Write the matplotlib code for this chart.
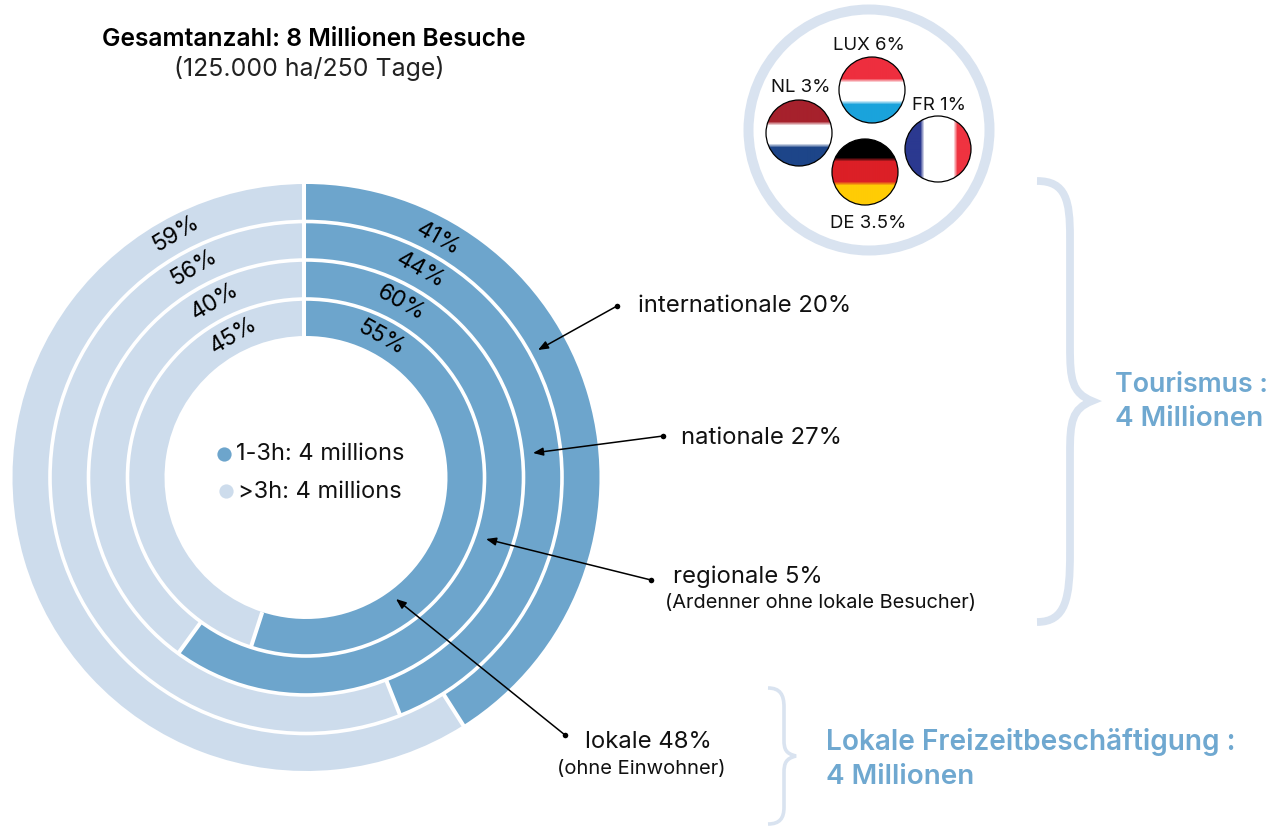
import numpy as np
import matplotlib
matplotlib.use("Agg")
import matplotlib.pyplot as plt
from matplotlib.patches import Circle, PathPatch
from matplotlib.path import Path

plt.rcParams['font.family'] = ['Inter', 'DejaVu Sans']

# ---- data ----
ring_names = ['international', 'national', 'regional', 'local']
share_1_3h = [41, 44, 60, 55]
share_over3h = [59, 56, 40, 45]
dark = '#6DA5CC'
light = '#CDDCEC'
pale = '#D9E3F0'
blue_txt = '#6FA8D0'

CX, CY = 306, 477.5
ring_edges = [293.5, 256, 217.5, 178.5, 141.5]

fig = plt.figure(figsize=(12.82, 8.26), dpi=100, facecolor='white')
ax = fig.add_axes([0, 0, 1, 1])

# ---- rings ----
for i, (a, b) in enumerate(zip(share_1_3h, share_over3h)):
    ax.pie([a, b], colors=[dark, light], startangle=-90, counterclock=True,
           center=(CX, CY), radius=ring_edges[i],
           wedgeprops=dict(width=ring_edges[i] - ring_edges[i + 1], linewidth=0))
    th = 2 * np.pi * a / 100
    ax.plot([CX + ring_edges[i + 1] * np.sin(th), CX + (ring_edges[i] + 1) * np.sin(th)],
            [CY - ring_edges[i + 1] * np.cos(th), CY - (ring_edges[i] + 1) * np.cos(th)],
            color='white', lw=2.9, solid_capstyle='butt', zorder=3)
for r in ring_edges[1:4]:
    ax.add_patch(Circle((CX, CY), r, fill=False, ec='white', lw=2.6, zorder=3))
ax.plot([304, 304], [CY - 295, CY - 141], color='white', lw=2.9, solid_capstyle='butt', zorder=3)

# percent labels on rings
light_pos = [(176, 234), (194, 268), (215, 301), (234, 336)]
dark_pos = [(438, 239), (420, 270), (401, 303), (381, 338)]
for (x, y), v in zip(light_pos, share_over3h):
    ax.text(x, y, f'{v}%', rotation=31, rotation_mode='anchor', ha='center', va='center', fontsize=16.5, color='black', zorder=4)
for (x, y), v in zip(dark_pos, share_1_3h):
    ax.text(x, y, f'{v}%', rotation=-29, rotation_mode='anchor', ha='center', va='center', fontsize=16.5, color='black', zorder=4)

# centre legend
ax.scatter([224], [454], s=105, color=dark, linewidths=0, zorder=4)
ax.scatter([226], [491], s=105, color=light, linewidths=0, zorder=4)
ax.text(236, 454.5, '1-3h: 4 millions', fontsize=17, va='center', color='#111111')
ax.text(238, 491.5, '>3h: 4 millions', fontsize=17, va='center', color='#111111')

# title
ax.text(314, 39.5, 'Gesamtanzahl: 8 Millionen Besuche', fontsize=17.7, fontweight='semibold', ha='center', va='center', color='black')
ax.text(309, 68.5, '(125.000 ha/250 Tage)', fontsize=17.9, ha='center', va='center', color='#222222')

# callouts
callouts = [
    ('internationale 20%', 638, 306, (617, 306), (538, 350)),
    ('nationale 27%', 681, 437.5, (663, 436), (533, 453)),
    ('regionale 5%', 673, 576.5, (651, 580), (486, 539)),
    ('lokale 48%', 585, 741.5, (565, 735), (396, 599)),
]
for txt, x, y, start, end in callouts:
    ax.text(x, y, txt, fontsize=17.2, va='center', color='#111111')
    ax.annotate('', xy=end, xytext=start, zorder=5,
                arrowprops=dict(arrowstyle='-|>,head_length=0.6,head_width=0.24', color='black', lw=1.1,
                                shrinkA=0, shrinkB=0))
    ax.scatter([start[0]], [start[1]], s=16, color='black', linewidths=0, zorder=5)
ax.text(665, 603, '(Ardenner ohne lokale Besucher)', fontsize=14.4, va='center', color='#111111')
ax.text(557, 769, '(ohne Einwohner)', fontsize=14.5, va='center', color='#111111')

# flags panel
ax.add_patch(Circle((869, 130), 120.5, fill=False, ec=pale, lw=7.2))

def flag(cx, cy, colors, cuts, vertical=False, r=33):
    n = 2 * r
    idx = np.zeros(n, dtype=int)
    for c in cuts:
        idx[c:] += 1
    rgb = np.array([matplotlib.colors.to_rgb(c) for c in colors])[idx]
    k = np.ones(4) / 4
    pad = np.pad(rgb, ((2, 2), (0, 0)), mode='edge')
    smooth = np.stack([np.convolve(pad[:, j], k, mode='same')[2:-2] for j in range(3)], axis=1)
    img = smooth[:, None, :] if not vertical else smooth[None, :, :]
    im = ax.imshow(img, extent=(cx - r, cx + r, cy + r, cy - r), aspect='auto', interpolation='bilinear', zorder=3)
    c = Circle((cx, cy), r, transform=ax.transData, fill=False, ec='none')
    ax.add_patch(c)
    im.set_clip_path(c)
    ax.add_patch(Circle((cx, cy), r, fill=False, ec='black', lw=0.9, zorder=4))

flag(872, 90, ['#EE2E3E', '#FFFFFF', '#1AA3DC'], [23, 45])
flag(799, 133, ['#A6212C', '#FFFFFF', '#1D4589'], [23, 45])
flag(865, 172, ['#000000', '#DC1F26', '#FFCC05'], [20, 44])
flag(938, 149, ['#2B3990', '#FFFFFF', '#EF3340'], [17, 50], vertical=True)

flag_labels = [('LUX 6%', 868.5, 45), ('NL 3%', 800.5, 88), ('FR 1%', 939.5, 106), ('DE 3.5%', 868, 224)]
for t, x, y in flag_labels:
    ax.text(x, y, t, fontsize=13.4, ha='center', va='center', color='#111111')

# braces
def brace(x0, xm, xt, y0, y1, y2, ym, y3, y4, y5, lw):
    v = [(x0, y0), (xm - 4, y0), (xm, y0 + (y1 - y0) * .35), (xm, y1),
         (xm, y2),
         (xm, y2 + (ym - y2) * .6), (xm + 2, ym - (ym - y2) * .15), (xt, ym),
         (xm + 2, ym + (y3 - ym) * .15), (xm, y3 - (y3 - ym) * .6), (xm, y3),
         (xm, y4),
         (xm, y4 + (y5 - y4) * .65), (xm - 4, y5), (x0, y5)]
    c = [Path.MOVETO, Path.CURVE4, Path.CURVE4, Path.CURVE4, Path.LINETO,
         Path.CURVE4, Path.CURVE4, Path.CURVE4, Path.CURVE4, Path.CURVE4, Path.CURVE4,
         Path.LINETO, Path.CURVE4, Path.CURVE4, Path.CURVE4]
    ax.add_patch(PathPatch(Path(v, c), fill=False, ec=pale, lw=lw, capstyle='butt', joinstyle='miter'))

brace(1037, 1070, 1092, 181, 237, 347, 401, 453, 553, 622, 5.6)
brace(768, 784, 796, 688, 707, 740, 756, 773, 807, 824, 2.6)

ax.text(1115, 385, 'Tourismus :', fontsize=19.3, fontweight='semibold', va='center', color=blue_txt)
ax.text(1115, 418.5, '4 Millionen', fontsize=20, fontweight='semibold', va='center', color=blue_txt)
ax.text(826, 742, 'Lokale Freizeitbeschäftigung :', fontsize=20.2, fontweight='semibold', va='center', color=blue_txt)
ax.text(826, 777.5, '4 Millionen', fontsize=20, fontweight='semibold', va='center', color=blue_txt)

ax.set_xlim(0, 1282)
ax.set_ylim(826, 0)
ax.set_aspect('auto')
ax.axis('off')
fig.savefig('out.png', dpi=100, facecolor='white')
